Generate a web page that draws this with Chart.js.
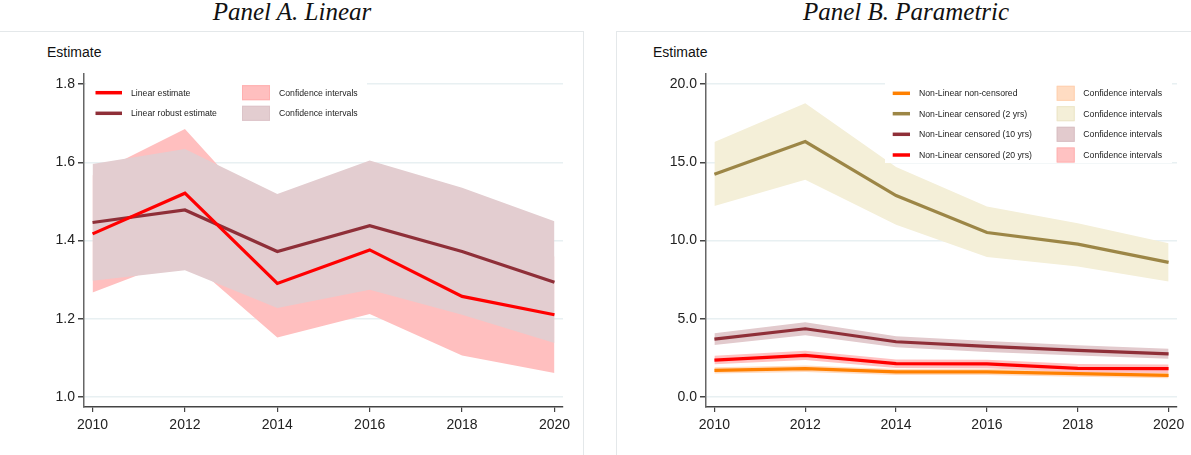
<!DOCTYPE html>
<html>
<head>
<meta charset="utf-8">
<script src="https://cdn.jsdelivr.net/npm/chart.js@4.4.1/dist/chart.umd.min.js"></script>
<style>
  body { margin: 0; background: #fff; }
  #page { position: relative; width: 1191px; height: 455px; overflow: hidden; background: #fff; }
  .frame { position: absolute; border: 0 solid #e4e8ea; }
  .title { position: absolute; top: -1px; font: italic 25px "Liberation Serif", "Times New Roman", serif; line-height: 25px; color: #111; white-space: nowrap; transform: translateX(-50%); }
  .ylab { position: absolute; top: 45px; font: 14px "Liberation Sans", Arial, sans-serif; line-height: 14px; color: #111; }
  canvas { position: absolute; top: 0; }
</style>
</head>
<body>
<div id="page">
  <div class="frame" style="left:-2px; top:31px; width:585px; height:440px; border-top-width:1px; border-right-width:1px;"></div>
  <div class="frame" style="left:616px; top:31px; width:600px; height:440px; border-top-width:1px; border-left-width:1px;"></div>
  <div class="title" style="left:292px;">Panel A. Linear</div>
  <div class="title" style="left:906px;">Panel B. Parametric</div>
  <div class="ylab" style="left:47px;">Estimate</div>
  <div class="ylab" style="left:653px;">Estimate</div>
  <canvas id="chartA" width="590" height="455" style="left:0;"></canvas>
  <canvas id="chartB" width="601" height="455" style="left:590px;"></canvas>
</div>
<script>
// ---- data ----
const years = [2010, 2012, 2014, 2016, 2018, 2020];
const xTicks = [2010, 2012, 2014, 2016, 2018, 2020];

// Panel A
const yTicksA = [1.0, 1.2, 1.4, 1.6, 1.8];
const linEst    = [1.417, 1.521, 1.290, 1.376, 1.257, 1.210];
const linLo     = [1.267, 1.357, 1.152, 1.212, 1.106, 1.061];
const linHi     = [1.567, 1.685, 1.425, 1.540, 1.408, 1.359];
const robEst    = [1.446, 1.478, 1.372, 1.438, 1.372, 1.293];
const robLo     = [1.297, 1.324, 1.227, 1.274, 1.210, 1.138];
const robHi     = [1.596, 1.634, 1.519, 1.605, 1.535, 1.449];
const legendA   = ['Linear estimate', 'Linear robust estimate'];

// Panel B
const yTicksB = [0, 5, 10, 15, 20];
const nonCens   = [1.70, 1.81, 1.60, 1.60, 1.49, 1.38];
const nonCensLo = [1.50, 1.60, 1.41, 1.40, 1.30, 1.19];
const nonCensHi = [1.90, 2.02, 1.79, 1.80, 1.68, 1.57];
const cens2     = [14.24, 16.32, 12.87, 10.51, 9.77, 8.60];
const cens2Lo   = [12.20, 13.88, 11.00, 8.94, 8.34, 7.38];
const cens2Hi   = [16.30, 18.77, 14.70, 12.17, 11.10, 9.83];
const cens10    = [3.70, 4.36, 3.53, 3.23, 2.98, 2.76];
const cens10Lo  = [3.32, 3.94, 3.18, 2.88, 2.65, 2.44];
const cens10Hi  = [4.08, 4.78, 3.88, 3.58, 3.31, 3.08];
const cens20    = [2.36, 2.66, 2.13, 2.11, 1.83, 1.81];
const cens20Lo  = [2.09, 2.36, 1.86, 1.84, 1.56, 1.54];
const cens20Hi  = [2.63, 2.96, 2.40, 2.38, 2.10, 2.08];
const legendB   = ['Non-Linear non-censored', 'Non-Linear censored (2 yrs)',
                   'Non-Linear censored (10 yrs)', 'Non-Linear censored (20 yrs)'];
const ciLabel = 'Confidence intervals';

// ---- helpers ----
const FONT = '"Liberation Sans", Arial, sans-serif';
Chart.defaults.font.family = FONT;

const pts = ys => years.map((x, i) => ({ x, y: ys[i] }));

function line(label, ys, color) {
  return { label, data: pts(ys), borderColor: color, borderWidth: 3.2, pointRadius: 0, fill: false, tension: 0 };
}
function band(lo, hi, color) {
  return [
    { label: ciLabel, data: pts(hi), borderColor: 'rgba(0,0,0,0)', borderWidth: 0, pointRadius: 0, fill: '+1', backgroundColor: color },
    { label: ciLabel, data: pts(lo), borderColor: 'rgba(0,0,0,0)', borderWidth: 0, pointRadius: 0, fill: false },
  ];
}

// stata-like legend drawn on top of the plot, white box, two columns
function legendPlugin(cfg) {
  return {
    id: 'stataLegend',
    afterDatasetsDraw(chart) {
      const ctx = chart.ctx;
      ctx.save();
      ctx.fillStyle = '#fff';
      ctx.fillRect(cfg.x, cfg.y, cfg.w, cfg.h);
      ctx.font = '8.7px ' + FONT;
      ctx.textBaseline = 'middle';
      cfg.rows.forEach((r, i) => {
        const y = cfg.rowY[i];
        ctx.strokeStyle = r.line;
        ctx.lineWidth = 3.5;
        ctx.beginPath();
        ctx.moveTo(cfg.lineX[0], y);
        ctx.lineTo(cfg.lineX[1], y);
        ctx.stroke();
        ctx.fillStyle = '#222';
        ctx.fillText(r.label, cfg.textX, y + 0.5);
        ctx.fillStyle = r.band;
        ctx.fillRect(cfg.boxX, y - 7.5, cfg.boxW, 15);
        ctx.strokeStyle = r.edge;
        ctx.lineWidth = 1;
        ctx.strokeRect(cfg.boxX + 0.5, y - 7, cfg.boxW - 1, 14);
        ctx.fillStyle = '#222';
        ctx.fillText(ciLabel, cfg.ciX, y + 0.5);
      });
      ctx.restore();
    }
  };
}

function scales(yMin, yMax, yTicks, yWidth) {
  return {
    x: {
      type: 'linear', min: 2009.815, max: 2020.185,
      afterBuildTicks: s => { s.ticks = xTicks.map(v => ({ value: v })); },
      afterFit: s => { s.height = 48; },
      ticks: { callback: v => String(v), font: { size: 14 }, color: '#222', padding: 5, maxRotation: 0, autoSkip: false },
      grid: { drawOnChartArea: false, tickLength: 5, tickColor: '#444', lineWidth: 1.2 },
      border: { color: '#444', width: 1.5 },
    },
    y: {
      type: 'linear', min: yMin, max: yMax,
      afterBuildTicks: s => { s.ticks = yTicks.map(v => ({ value: v })); },
      afterFit: s => { s.width = yWidth; },
      ticks: { callback: v => Number(v).toFixed(1), font: { size: 14 }, color: '#222', padding: 3 },
      grid: { color: '#e8f0f2', lineWidth: 1.5, tickLength: 6, tickColor: '#444' },
      border: { color: '#666', width: 1.5 },
    },
  };
}

const baseOptions = (yMin, yMax, yTicks, yWidth, padRight) => ({
  responsive: false,
  animation: false,
  events: [],
  layout: { padding: { top: 74, right: padRight, bottom: 0, left: 0 } },
  plugins: { legend: { display: false }, tooltip: { enabled: false }, filler: { drawTime: 'beforeDatasetsDraw' } },
  scales: scales(yMin, yMax, yTicks, yWidth),
});

// ---- Panel A ----
new Chart(document.getElementById('chartA'), {
  type: 'line',
  data: {
    datasets: [
      line(legendA[0], linEst, '#ff0000'),
      line(legendA[1], robEst, '#8f2f38'),
      ...band(robLo, robHi, '#e3cdd0'),
      ...band(linLo, linHi, '#ffbfbf'),
    ],
  },
  options: baseOptions(0.974, 1.826, yTicksA, 84, 27),
  plugins: [legendPlugin({
    x: 86, y: 79, w: 281, h: 43,
    rowY: [92.7, 113.3],
    lineX: [95.5, 122], textX: 131, boxX: 242, boxW: 28, ciX: 279,
    rows: [
      { label: legendA[0], line: '#ff0000', band: '#ffbfbf', edge: '#ffb0b0' },
      { label: legendA[1], line: '#8f2f38', band: '#e3cdd0', edge: '#dcc4c8' },
    ],
  })],
});

// ---- Panel B ----
new Chart(document.getElementById('chartB'), {
  type: 'line',
  data: {
    datasets: [
      line(legendB[3], cens20, '#ff0000'),
      line(legendB[2], cens10, '#8f2f38'),
      line(legendB[0], nonCens, '#ff8000'),
      line(legendB[1], cens2, '#9c8646'),
      ...band(cens20Lo, cens20Hi, '#ffc2c2'),
      ...band(cens10Lo, cens10Hi, '#e2cacd'),
      ...band(nonCensLo, nonCensHi, '#ffdcc2'),
      ...band(cens2Lo, cens2Hi, '#f4efd8'),
    ],
  },
  options: baseOptions(-0.64, 20.64, yTicksB, 116, 14),
  plugins: [legendPlugin({
    x: 295, y: 82, w: 287, h: 81,
    rowY: [93.3, 113.7, 134.3, 155],
    lineX: [302.7, 320], textX: 329, boxX: 466.7, boxW: 18, ciX: 493.3,
    rows: [
      { label: legendB[0], line: '#ff8000', band: '#ffdcc2', edge: '#ffd0b0' },
      { label: legendB[1], line: '#9c8646', band: '#f4efd8', edge: '#ece5c8' },
      { label: legendB[2], line: '#8f2f38', band: '#e2cacd', edge: '#d9bfc3' },
      { label: legendB[3], line: '#ff0000', band: '#ffc2c2', edge: '#ffb2b2' },
    ],
  })],
});
</script>
</body>
</html>
